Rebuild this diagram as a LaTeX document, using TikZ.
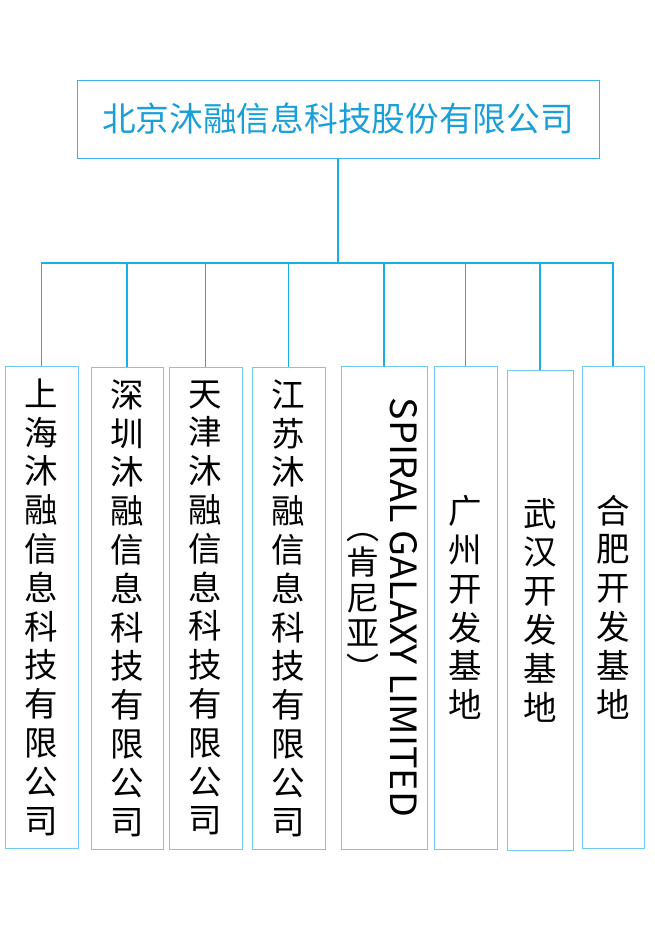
\documentclass[tikz,border=0pt]{standalone}
\usepackage{fontspec}
\usepackage{graphicx}
\newfontfamily\cjk{Noto Sans CJK SC}
\definecolor{linec}{HTML}{1AAEE6}
\definecolor{topc}{HTML}{3AB2E2}
\definecolor{subc}{HTML}{70CAEE}
\definecolor{titlec}{HTML}{1A9FD9}
\tikzset{
  conn/.style={draw=linec, line width=1.05pt},
  topbox/.style={draw=topc, line width=1pt, minimum width=522pt, minimum height=78pt, inner sep=0pt,
    font=\cjk\fontsize{33.7}{40}\selectfont, text=titlec},
  subbox/.style={draw=subc, line width=1pt, inner sep=0pt},
  vtext/.style={font=\cjk\fontsize{33.5}{38.8}\selectfont, align=center, text=black},
  vtextb/.style={font=\cjk\fontsize{33}{35.5}\selectfont, align=center, text=black, inner sep=0pt},
}
\begin{document}
\begin{tikzpicture}[x=1pt,y=-1pt]
\useasboundingbox (0,0) rectangle (654,942);
\fill[white] (0,0) rectangle (654,942);

\node[topbox] (top) at (338,119) {北京沐融信息科技股份有限公司};

\node[subbox, vtext, minimum width=73pt, minimum height=482pt] (b1) at (41.5,607) {上\\海\\沐\\融\\信\\息\\科\\技\\有\\限\\公\\司};
\node[subbox, vtext, minimum width=72pt, minimum height=482pt] (b2) at (127,608) {深\\圳\\沐\\融\\信\\息\\科\\技\\有\\限\\公\\司};
\node[subbox, vtext, minimum width=73pt, minimum height=482pt] (b3) at (205.5,608) {天\\津\\沐\\融\\信\\息\\科\\技\\有\\限\\公\\司};
\node[subbox, vtext, minimum width=73pt, minimum height=482pt] (b4) at (288.5,608) {江\\苏\\沐\\融\\信\\息\\科\\技\\有\\限\\公\\司};
\node[subbox, minimum width=86pt, minimum height=483pt] (b5) at (384,607.5) {};
\node[rotate=-90, inner sep=0pt] (b5en) at (403.5,607.5) {\resizebox{419pt}{27pt}{\cjk SPIRAL GALAXY LIMITED}};
\node[vtextb] (b5cn) at (363,607) {︵\\肯\\尼\\亚\\︶};
\node[subbox, vtext, minimum width=63pt, minimum height=483pt] (b6) at (465.5,607.5) {广\\州\\开\\发\\基\\地};
\node[subbox, vtext, minimum width=66pt, minimum height=480pt] (b7) at (540,610) {武\\汉\\开\\发\\基\\地};
\node[subbox, vtext, minimum width=62pt, minimum height=482pt] (b8) at (613,607) {合\\肥\\开\\发\\基\\地};

\coordinate (bar) at (338,263);
\draw[conn] (top.south) -- (bar);
\foreach \b in {b1,b2,b3,b4,b5,b6,b7,b8} {
  \draw[conn] (\b.north) |- (bar);
}
\end{tikzpicture}
\end{document}
